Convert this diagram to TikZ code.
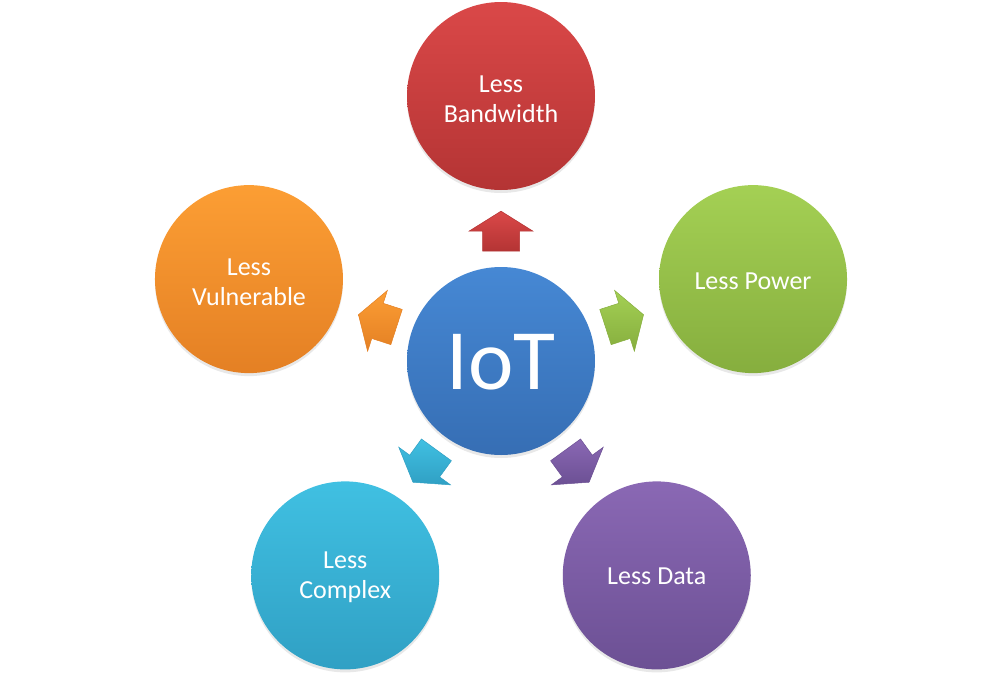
\documentclass[tikz,border=0pt]{standalone}
\usepackage{fontspec}
\setmainfont{Carlito}
\usetikzlibrary{calc,shadows,fadings}

% Palette: light (top) and dark (bottom) tone of each disc
\definecolor{blueT}{RGB}{70,136,212}
\definecolor{blueB}{RGB}{54,110,180}
\definecolor{redT}{RGB}{218,72,72}
\definecolor{redB}{RGB}{180,52,52}
\definecolor{greenT}{RGB}{164,208,84}
\definecolor{greenB}{RGB}{134,174,62}
\definecolor{purpT}{RGB}{138,104,180}
\definecolor{purpB}{RGB}{108,80,148}
\definecolor{cyanT}{RGB}{64,192,226}
\definecolor{cyanB}{RGB}{48,160,196}
\definecolor{oranT}{RGB}{252,158,52}
\definecolor{oranB}{RGB}{228,128,36}

% Darkened rim, a little wider at the bottom, for the bevelled edge
\pgfdeclareradialshading{rimshade}{\pgfpoint{0bp}{3bp}}{%
  color(0bp)=(pgftransparent!100); color(42bp)=(pgftransparent!100);
  color(47bp)=(pgftransparent!75); color(50bp)=(pgftransparent!35)}
\pgfdeclarefading{rimfade}{\pgfuseshading{rimshade}}

\tikzset{
  bubble/.style={circle, minimum size=188pt, inner sep=0pt,
    drop shadow={shadow xshift=0pt, shadow yshift=-3pt, opacity=0.18},
    path picture={\fill[black, opacity=0.35, path fading=rimfade]
      (path picture bounding box.center) circle (94pt);}},
  caption/.style={text=white, align=center, inner sep=0pt,
    font=\fontsize{26}{30}\selectfont},
  pics/blockarr/.style n args={2}{code={
    \shade[top color=#1, bottom color=#2, shading angle=0,
           draw=#2, line width=0.5pt, line join=miter]
      (-20,-18.5) -- (0,-18.5) -- (0,-32) -- (20,0) -- (0,32) -- (0,18.5)
      -- (-20,18.5) -- cycle;}}
}

\begin{document}
\begin{tikzpicture}[x=1pt,y=1pt]
\useasboundingbox (0,0) rectangle (1002,-683);

% Hub and its five satellites on a pentagon
\node[bubble, top color=blueT, bottom color=blueB] (iot) at (501,-361) {};
\node[bubble, top color=redT, bottom color=redB]     (bw)  at ($(iot)+(90:265)$)   {};
\node[bubble, top color=greenT, bottom color=greenB] (pw)  at ($(iot)+(18:265)$)   {};
\node[bubble, top color=purpT, bottom color=purpB]   (dat) at ($(iot)+(-54:265)$)  {};
\node[bubble, top color=cyanT, bottom color=cyanB]   (cx)  at ($(iot)+(-126:265)$) {};
\node[bubble, top color=oranT, bottom color=oranB]   (vul) at ($(iot)+(162:265)$)  {};

% Captions
\node[caption, font=\fontsize{86}{90}\selectfont] (tiot) at ([yshift=-1pt]iot.center) {IoT};
\node[caption] (tbw)  at ([yshift=-3pt]bw.center)  {Less\\Bandwidth};
\node[caption] (tpw)  at ([yshift=-2pt]pw.center)  {Less Power};
\node[caption] (tdat) at ([yshift=-1pt]dat.center) {Less Data};
\node[caption] (tcx)  at ([yshift=-2pt]cx.center)  {Less\\Complex};
\node[caption] (tvul) at ([yshift=-3pt]vul.center) {Less\\Vulnerable};

% Block arrows pointing from the hub to each satellite
\pic[rotate=90]   at ($(iot)!0.49!(bw)$)  {blockarr={redT}{redB}};
\pic[rotate=18]   at ($(iot)!0.49!(pw)$)  {blockarr={greenT}{greenB}};
\pic[rotate=-54]  at ($(iot)!0.49!(dat)$) {blockarr={purpT}{purpB}};
\pic[rotate=-126] at ($(iot)!0.49!(cx)$)  {blockarr={cyanT}{cyanB}};
\pic[rotate=162]  at ($(iot)!0.49!(vul)$) {blockarr={oranT}{oranB}};
\end{tikzpicture}
\end{document}
